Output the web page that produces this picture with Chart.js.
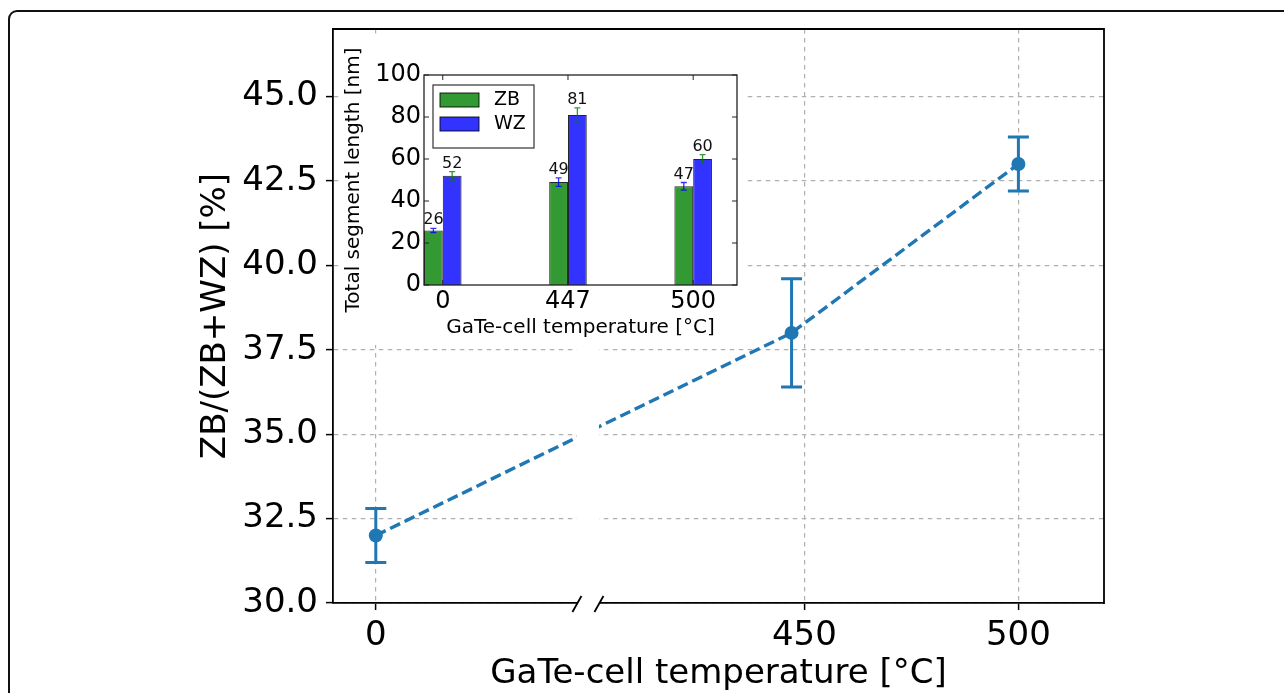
<!DOCTYPE html>
<html>
<head>
<meta charset="utf-8">
<title>ZB fraction vs GaTe-cell temperature</title>
<script src="https://cdn.jsdelivr.net/npm/chart.js@4/dist/chart.umd.min.js"></script>
<style>
  html, body { margin: 0; padding: 0; background: #fff; overflow: hidden; }
  #wrap { position: relative; width: 1284px; height: 693px; overflow: hidden; background: #fff; }
  #frame { position: absolute; left: 8px; top: 10px; width: 1400px; height: 800px;
           border: 2px solid #111; border-radius: 9px; box-sizing: border-box; }
  #main { position: absolute; left: 0; top: 0; }
  #inset { position: absolute; left: 341px; top: 38px; background: #fff; }
</style>
</head>
<body>
<div id="wrap">
  <div id="frame"></div>
  <canvas id="main" width="1284" height="693"></canvas>
  <canvas id="inset" width="404" height="307"></canvas>
</div>
<script>
// ---- main plot: ZB fraction ----
const temps = [0, 447, 500];
const ratio = [32.0, 38.0, 43.0];
const ratioErr = [0.8, 1.6, 0.8];
const xTickValues = [0, 450, 500];
const yTickValues = [30, 32.5, 35, 37.5, 40, 42.5, 45];
// the x axis is broken: two visible ranges with a small gap between them
const xSegments = [[-10, 47], [402, 520]];
const breakGapPx = 22;

// ---- inset: total segment lengths ----
const insetCategories = ['0', '447', '500'];
const zbLength = [26, 49, 47];
const zbErr = [1.0, 2.0, 1.8];
const wzLength = [52, 81, 60];
const wzErr = [2.0, 3.3, 2.1];
const insetYTicks = [0, 20, 40, 60, 80, 100];

const FONT = 'DejaVu Sans';
const BLUE = '#1f77b4';
const GREEN_A = 'rgba(0,128,0,0.8)';
const BLUE_A = 'rgba(0,0,255,0.8)';
Chart.defaults.font.family = FONT;
Chart.defaults.color = '#000';

// Linear scale with a gap: values inside the two segments keep the same px/unit
class BrokenLinearScale extends Chart.LinearScale {
  static id = 'brokenLinear';
  _unit() {
    const [[a0, a1], [b0, b1]] = xSegments;
    return (this.width - breakGapPx) / ((a1 - a0) + (b1 - b0));
  }
  getPixelForValue(value) {
    if (value === null || value === undefined) return NaN;
    const [[a0, a1], [b0]] = xSegments;
    const u = this._unit();
    let off;
    if (value <= a1) off = (value - a0) * u;
    else if (value >= b0) off = (a1 - a0) * u + breakGapPx + (value - b0) * u;
    else off = (a1 - a0) * u + breakGapPx * (value - a1) / (b0 - a1);
    return this.left + off;
  }
  getValueForPixel(pixel) {
    const [[a0, a1], [b0]] = xSegments;
    const u = this._unit();
    const off = pixel - this.left;
    const leftW = (a1 - a0) * u;
    if (off <= leftW) return a0 + off / u;
    if (off >= leftW + breakGapPx) return b0 + (off - leftW - breakGapPx) / u;
    return a1 + (b0 - a1) * (off - leftW) / breakGapPx;
  }
}
Chart.register(BrokenLinearScale);

const mainDecor = {
  id: 'mainDecor',
  beforeDatasetsDraw(chart) {
    const { ctx, scales: { x, y } } = chart;
    chart.data.datasets.forEach(ds => {
      ctx.save();
      ctx.strokeStyle = ds.borderColor;
      ctx.lineWidth = 3;
      ds.data.forEach((p, i) => {
        const e = ds.errors[i];
        const px = x.getPixelForValue(p.x);
        const yt = y.getPixelForValue(p.y + e);
        const yb = y.getPixelForValue(p.y - e);
        ctx.beginPath();
        ctx.moveTo(px, yt); ctx.lineTo(px, yb);
        ctx.moveTo(px - 10.5, yt); ctx.lineTo(px + 10.5, yt);
        ctx.moveTo(px - 10.5, yb); ctx.lineTo(px + 10.5, yb);
        ctx.stroke();
      });
      ctx.restore();
    });
  },
  afterDatasetsDraw(chart) {
    const { ctx, chartArea: a, scales: { x } } = chart;
    const g0 = x.getPixelForValue(xSegments[0][1]);
    const g1 = x.getPixelForValue(xSegments[1][0]);
    ctx.save();
    // blank out the break
    ctx.fillStyle = '#fff';
    ctx.fillRect(g0, a.top + 1, g1 - g0, a.bottom - a.top + 2);
    // top and right spines
    ctx.strokeStyle = '#000';
    ctx.lineWidth = 1.8;
    ctx.beginPath();
    ctx.moveTo(a.left - 0.9, a.top);
    ctx.lineTo(a.right, a.top);
    ctx.lineTo(a.right, a.bottom + 0.9);
    ctx.stroke();
    // break marks on the x axis
    ctx.lineWidth = 1.8;
    [g0, g1].forEach(gx => {
      ctx.beginPath();
      ctx.moveTo(gx - 4.5, a.bottom + 9);
      ctx.lineTo(gx + 4.5, a.bottom - 7);
      ctx.stroke();
    });
    ctx.restore();
  }
};

new Chart(document.getElementById('main'), {
  type: 'line',
  data: {
    datasets: [{
      label: 'ZB/(ZB+WZ)',
      data: temps.map((t, i) => ({ x: t, y: ratio[i] })),
      errors: ratioErr,
      borderColor: BLUE,
      backgroundColor: BLUE,
      borderWidth: 3.4,
      borderDash: [11, 5],
      pointRadius: 7,
      pointHoverRadius: 7,
      pointBackgroundColor: BLUE,
      pointBorderWidth: 0,
      tension: 0
    }]
  },
  options: {
    responsive: false,
    animation: false,
    events: [],
    layout: { padding: { left: 190, top: 29, right: 180, bottom: 0 } },
    plugins: { legend: { display: false }, tooltip: { enabled: false } },
    scales: {
      x: {
        type: 'brokenLinear',
        min: xSegments[0][0],
        max: xSegments[1][1],
        afterBuildTicks: s => { s.ticks = xTickValues.map(v => ({ value: v })); },
        afterFit: s => { s.height = 90; },
        ticks: { font: { size: 34 }, color: '#000', padding: 6, autoSkip: false, maxRotation: 0,
                 callback: v => String(v) },
        grid: { color: '#b0b0b0', lineWidth: 1.2, tickColor: '#000', tickWidth: 1.5, tickLength: 7 },
        border: { display: true, color: '#000', width: 1.8, dash: [4.5, 4.5] },
        title: { display: true, text: 'GaTe-cell temperature [°C]', color: '#000',
                 font: { size: 34 }, padding: { top: 0, bottom: -2 } }
      },
      y: {
        type: 'linear',
        min: 30,
        max: 47,
        afterBuildTicks: s => { s.ticks = yTickValues.map(v => ({ value: v })); },
        afterFit: s => { s.width = 143; },
        ticks: { font: { size: 34 }, color: '#000', padding: 8, callback: v => v.toFixed(1) },
        grid: { color: '#b0b0b0', lineWidth: 1.2, tickColor: '#000', tickWidth: 1.5, tickLength: 7 },
        border: { display: true, color: '#000', width: 1.8, dash: [4.5, 4.5] },
        title: { display: true, text: 'ZB/(ZB+WZ) [%]', color: '#000',
                 font: { size: 34 }, padding: { top: 6, bottom: 0 } }
      }
    }
  },
  plugins: [mainDecor]
});

// ---- inset ----
const insetDecor = {
  id: 'insetDecor',
  afterDatasetsDraw(chart) {
    const { ctx, chartArea: a, scales: { x, y } } = chart;
    ctx.save();
    // error bars and value labels
    chart.data.datasets.forEach((ds, di) => {
      const meta = chart.getDatasetMeta(di);
      meta.data.forEach((bar, i) => {
        const v = ds.data[i].y, e = ds.errors[i];
        const yt = y.getPixelForValue(v + e);
        const yb = y.getPixelForValue(v - e);
        ctx.strokeStyle = ds.errorColor;
        ctx.lineWidth = 1.3;
        ctx.beginPath();
        ctx.moveTo(bar.x, yt); ctx.lineTo(bar.x, yb);
        ctx.moveTo(bar.x - 3, yt); ctx.lineTo(bar.x + 3, yt);
        ctx.moveTo(bar.x - 3, yb); ctx.lineTo(bar.x + 3, yb);
        ctx.stroke();
        ctx.fillStyle = '#111';
        ctx.font = '16px "' + FONT + '"';
        ctx.textAlign = 'center';
        ctx.textBaseline = 'alphabetic';
        ctx.fillText(String(v), bar.x, yt - 4);
      });
    });
    // axes frame
    ctx.strokeStyle = '#222';
    ctx.lineWidth = 1.3;
    ctx.strokeRect(a.left, a.top, a.width, a.height);
    // inward tick marks on all four sides
    ctx.lineWidth = 1;
    ctx.beginPath();
    y.ticks.forEach(t => {
      const py = y.getPixelForValue(t.value);
      ctx.moveTo(a.left, py); ctx.lineTo(a.left + 5, py);
      ctx.moveTo(a.right, py); ctx.lineTo(a.right - 5, py);
    });
    x.ticks.forEach(t => {
      const px = x.getPixelForValue(t.value);
      ctx.moveTo(px, a.bottom); ctx.lineTo(px, a.bottom - 5);
      ctx.moveTo(px, a.top); ctx.lineTo(px, a.top + 5);
    });
    ctx.stroke();
    // legend
    const lx = a.left + 9, ly = a.top + 10;
    ctx.fillStyle = '#fff';
    ctx.fillRect(lx, ly, 101, 63);
    ctx.strokeStyle = '#333';
    ctx.lineWidth = 1.2;
    ctx.strokeRect(lx, ly, 101, 63);
    chart.data.datasets.forEach((ds, di) => {
      const bx = a.left + 16, by = a.top + 18 + 24 * di;
      ctx.fillStyle = ds.backgroundColor;
      ctx.fillRect(bx, by, 39, 14);
      ctx.strokeStyle = ds.borderColor;
      ctx.lineWidth = 1;
      ctx.strokeRect(bx, by, 39, 14);
      ctx.fillStyle = '#000';
      ctx.font = '19px "' + FONT + '"';
      ctx.textAlign = 'left';
      ctx.textBaseline = 'middle';
      ctx.fillText(ds.label, a.left + 70, by + 7.5);
    });
    ctx.restore();
  }
};

new Chart(document.getElementById('inset'), {
  type: 'bar',
  data: {
    datasets: [
      { label: 'ZB', data: zbLength.map((v, i) => ({ x: i, y: v })), errors: zbErr,
        backgroundColor: GREEN_A, borderColor: 'rgba(0,0,0,0.85)', borderWidth: 1,
        errorColor: BLUE_A },
      { label: 'WZ', data: wzLength.map((v, i) => ({ x: i, y: v })), errors: wzErr,
        backgroundColor: BLUE_A, borderColor: 'rgba(0,0,0,0.85)', borderWidth: 1,
        errorColor: GREEN_A }
    ]
  },
  options: {
    responsive: false,
    animation: false,
    events: [],
    categoryPercentage: 0.3,
    barPercentage: 1.0,
    layout: { padding: { left: 1, top: 37, right: 8, bottom: 5 } },
    plugins: { legend: { display: false }, tooltip: { enabled: false } },
    scales: {
      x: {
        type: 'linear',
        offset: false,
        min: -0.15,
        max: 2.35,
        afterBuildTicks: s => { s.ticks = insetCategories.map((c, i) => ({ value: i })); },
        afterFit: s => { s.height = 55; },
        ticks: { font: { size: 24 }, color: '#000', padding: 2, autoSkip: false, maxRotation: 0,
                 callback: (v, i) => insetCategories[i] },
        grid: { display: false, drawTicks: false, offset: false },
        border: { display: false },
        title: { display: true, text: 'GaTe-cell temperature [°C]', color: '#000',
                 font: { size: 20 }, padding: { top: 0, bottom: 0 } }
      },
      y: {
        type: 'linear',
        min: 0,
        max: 100,
        afterBuildTicks: s => { s.ticks = insetYTicks.map(v => ({ value: v })); },
        afterFit: s => { s.width = 82; },
        ticks: { font: { size: 24 }, color: '#000', padding: 3 },
        grid: { display: false, drawTicks: false },
        border: { display: false },
        title: { display: true, text: 'Total segment length [nm]', color: '#000',
                 font: { size: 20 }, padding: { top: 0, bottom: 0 } }
      }
    }
  },
  plugins: [insetDecor]
});
</script>
</body>
</html>
